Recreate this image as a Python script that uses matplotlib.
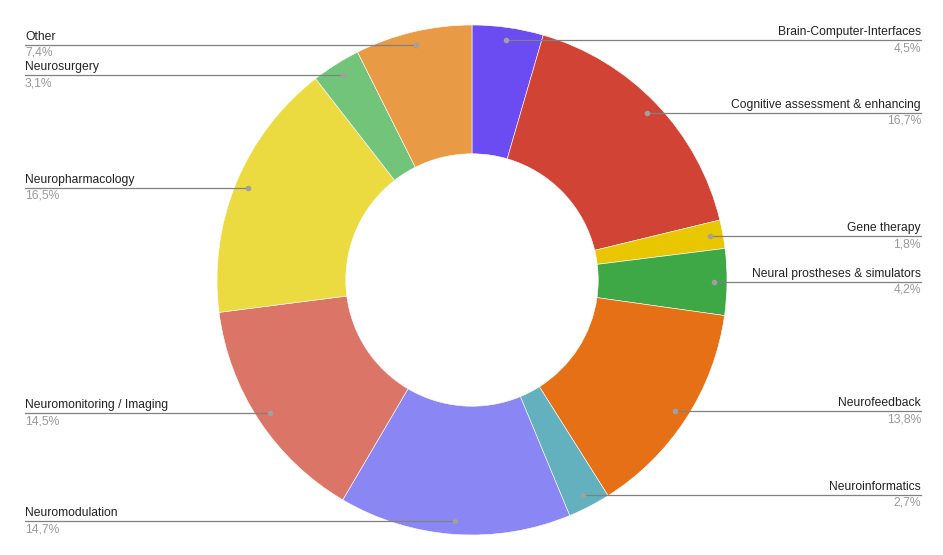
import matplotlib.pyplot as plt
import numpy as np

plt.rcParams['font.family'] = ['Liberation Sans', 'DejaVu Sans']

labels = ["Brain-Computer-Interfaces", "Cognitive assessment & enhancing", "Gene therapy",
          "Neural prostheses & simulators", "Neurofeedback", "Neuroinformatics",
          "Neuromodulation", "Neuromonitoring / Imaging", "Neuropharmacology",
          "Neurosurgery", "Other"]
values = [4.5, 16.7, 1.8, 4.2, 13.8, 2.7, 14.7, 14.5, 16.5, 3.1, 7.4]
colors = ["#6a4cf2", "#d14334", "#e8c600", "#3fa846", "#e57015", "#63b0bf",
          "#8a87f5", "#db7568", "#ebdb40", "#72c47a", "#e89a45"]

W, H = 943, 555
fig = plt.figure(figsize=(W / 100, H / 100), dpi=100)
ax = fig.add_axes([0, 0, 1, 1])
ax.set_xlim(0, W)
ax.set_ylim(0, H)
ax.set_aspect('equal')
ax.axis('off')

cx, cy = 472, H - 280
R = 255
ax.pie(values, colors=colors, startangle=90, counterclock=False, center=(cx, cy),
       radius=R, wedgeprops=dict(width=R * 0.505, edgecolor='white', linewidth=0.4))
ax.set_xlim(0, W)
ax.set_ylim(0, H)

# leader lines and labels
total = sum(values)
cum = 0
for lab, v in zip(labels, values):
    mid = (cum + v / 2) / total * 2 * np.pi
    cum += v
    dx = 242 * np.sin(mid)
    dy = 242 * np.cos(mid)
    px, py = cx + dx, cy + dy
    if dx >= 0:
        tx, ha = 921, 'right'
    else:
        tx, ha = 25, 'left'
    ax.plot([px, tx], [py, py], color='#808080', lw=0.9, zorder=3)
    ax.plot(px, py, 'o', color='#a0a0a0', ms=3, zorder=4)
    ax.text(tx, py + 2, lab, ha=ha, va='bottom', fontsize=8.7, color='#222222')
    ax.text(tx, py - 2, f"{v:.1f}%".replace('.', ','), ha=ha, va='top',
            fontsize=8.7, color='#999999')

fig.savefig('out.png', dpi=100)
